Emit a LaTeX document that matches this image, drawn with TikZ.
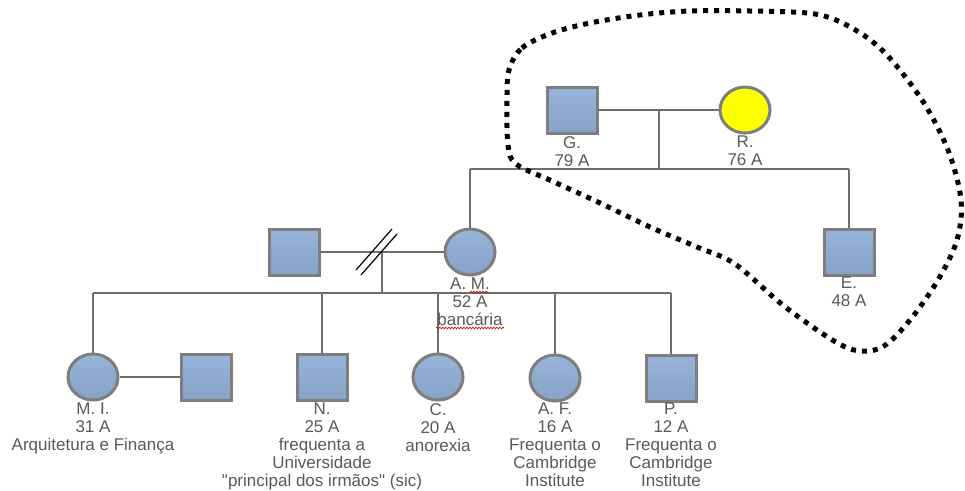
\documentclass[tikz,border=0pt]{standalone}
\usepackage{fontspec}
\setmainfont{Liberation Sans}[Ligatures=TeXOff]
\usetikzlibrary{shapes.geometric,decorations.pathmorphing,shadows}
\definecolor{boxtop}{HTML}{98B5D9}
\definecolor{boxbot}{HTML}{86A2C7}
\definecolor{edgegray}{HTML}{7E7E7E}
\definecolor{linegray}{HTML}{6E6E6E}
\definecolor{txtgray}{HTML}{595959}
\begin{document}
\begin{tikzpicture}[x=1pt,y=-1pt,
  person/.style={draw=edgegray, line width=3pt, inner sep=0pt,
    top color=boxtop, bottom color=boxbot,
    drop shadow={shadow xshift=1.2pt, shadow yshift=-1.2pt, opacity=0.25}},
  male/.style={person, rectangle, minimum width=50pt, minimum height=46pt},
  female/.style={person, ellipse, minimum width=50pt, minimum height=46pt},
  yellowfem/.style={female, top color=yellow, bottom color=yellow},
  tag/.style={anchor=north, align=center, inner sep=0pt, text=txtgray,
    font=\fontsize{17}{18}\selectfont},
  link/.style={draw=linegray, line width=1.3pt},
  squiggle/.style={draw=red!85!black, line width=0.6pt,
    decorate, decoration={snake, amplitude=0.9pt, segment length=3pt}},
  lasso/.style={draw=black, line width=5pt, dash pattern=on 5pt off 6pt}]
\useasboundingbox (0,0) rectangle (965,490);

% grandparents and their children
\node[male] (G) at (572,110) {};
\node[yellowfem] (R) at (745,110) {};
\node[female] (AM) at (470,252) {};
\node[male] (E) at (849,252) {};
\node[male] (H) at (294,252) {};

% grandchildren
\node[female] (MI) at (93,377) {};
\node[male] (MIs) at (206,377) {};
\node[male] (N) at (322,377) {};
\node[female] (C) at (438,377) {};
\node[female] (AF) at (555,378) {};
\node[male] (P) at (671,378) {};

% junction points
\coordinate (gr) at (659,110);
\coordinate (grs) at (659,169);
\coordinate (sibL) at (470,169);
\coordinate (sibR) at (849,169);
\coordinate (pm) at (382,252);
\coordinate (pms) at (382,293);
\coordinate (kidL) at (93,293);
\coordinate (kidN) at (322,293);
\coordinate (kidC) at (438,293);
\coordinate (kidA) at (555,293);
\coordinate (kidR) at (671,293);

% first generation
\draw[link] (G.east) -- (R.west);
\draw[link] (gr) -- (grs);
\draw[link] (sibL) -- (sibR);
\draw[link] (sibL) -- (AM.north);
\draw[link] (sibR) -- (E.north);

% divorced couple
\draw[link] (H.east) -- (AM.west);
\draw[link] (pm) -- (pms);
\draw[link, line width=1.2pt, draw=black] (356,270) -- (392,229);
\draw[link, line width=1.2pt, draw=black] (361,275) -- (397,234);

% sibship of the grandchildren
\draw[link] (kidL) -- (kidR);
\draw[link] (kidL) -- (MI.north);
\draw[link] (kidN) -- (N.north);
\draw[link] (kidC) -- (C.north);
\draw[link] (kidA) -- (AF.north);
\draw[link] (kidR) -- (P.north);
\draw[link] (MI.east) -- (MIs.west);

% labels
\node[tag] (tG) at (572,136) {G.\\79 A};
\node[tag] (tR) at (745,136) {R.\\76 A};
\node[tag] (tE) at (849,277) {E.\\48 A};
\node[tag] (tAM) at (470,278) {A. M.\\52 A\\bancária};
\node[tag] (tMI) at (93,403) {M. I.\\31 A\\Arquitetura e Finança};
\node[tag] (tN) at (322,403) {N.\\25 A\\frequenta a\\Universidade\\"principal dos irmãos" (sic)};
\node[tag] (tC) at (438,403) {C.\\20 A\\anorexia};
\node[tag] (tAF) at (555,403) {A. F.\\16 A\\Frequenta o\\Cambridge\\Institute};
\node[tag] (tP) at (671,403) {P.\\12 A\\Frequenta o\\Cambridge\\Institute};

% spell-check marks
\draw[squiggle] (470,292) -- (488,292);
\draw[squiggle] (436,328) -- (504,328);

% dotted enclosure around the grandparents and E.
\draw[lasso] plot[smooth cycle, tension=0.55] coordinates {
  (509,70) (522,48) (552,33) (590,23) (640,15) (690,11) (750,11)
  (815,14) (852,28) (885,53) (922,100) (948,150) (961,200) (957,240)
  (938,280) (910,320) (884,346) (860,351) (834,341) (784,306)
  (735,264) (697,247) (650,227) (600,203) (552,181) (516,164)
  (508,145) (507,100)};
\end{tikzpicture}
\end{document}
